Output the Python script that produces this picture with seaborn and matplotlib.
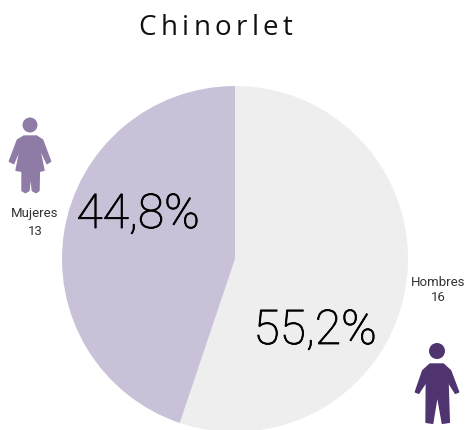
# -*- coding: utf-8 -*-
import matplotlib
matplotlib.use('Agg')
import matplotlib.pyplot as plt
import matplotlib.patheffects as pe
from matplotlib.patches import Circle, Polygon
import seaborn as sns

# datos
titulo = 'Chinorlet'
categorias = ['Hombres', 'Mujeres']
valores = [16, 13]
porcentajes = ['55,2%', '44,8%']
colores = ['#eeeeee', '#c9c1d8']
color_hombre = '#4f3470'
color_mujer = '#8f7ca6'

sns.set_theme(style='white')
plt.rcParams['font.family'] = ['Roboto', 'DejaVu Sans']

fig = plt.figure(figsize=(4.66, 4.30), dpi=100)
ax = fig.add_axes([0, 0, 1, 1])

# el pastel, en coordenadas de pixel (y hacia arriba)
ax.pie(valores, colors=sns.color_palette(colores), startangle=90, counterclock=False,
       center=(235, 430 - 259), radius=173, frame=True, wedgeprops={'linewidth': 0})
ax.set_xlim(0, 466)
ax.set_ylim(0, 430)
ax.set_aspect('equal')
ax.axis('off')


def py(y):
    return 430 - y


# porcentajes: light con un trazo fino para dar algo de cuerpo
grosor = [pe.withStroke(linewidth=0.6, foreground='black')]
ax.text(315, py(331), porcentajes[0], fontsize=34.5, fontweight='light', color='black', ha='center', va='center', path_effects=grosor)
ax.text(138, py(215), porcentajes[1], fontsize=34.5, fontweight='light', color='black', ha='center', va='center', path_effects=grosor)

# etiquetas de cada grupo
ax.text(35, py(222.5), f'{categorias[1]}\n{valores[1]}', fontsize=9.5, color='#333333', ha='center', va='center', linespacing=1.5)
ax.text(438, py(290), f'{categorias[0]}\n{valores[0]}', fontsize=9.5, color='#333333', ha='center', va='center', linespacing=1.25)

# titulo con letras separadas
renderer = fig.canvas.get_renderer()
espacio = 4.4
x0 = 138.5
for i, letra in enumerate(titulo):
    if i > 0:
        t = ax.text(0, 0, titulo[:i], fontsize=20, family='Open Sans')
        ancho = t.get_window_extent(renderer).width
        t.remove()
    else:
        ancho = 0
    ax.text(x0 + ancho + espacio * i, py(35), letra, fontsize=20, family='Open Sans', color='#111111', ha='left', va='baseline')

# icono mujer
mujer = [(72, 108), (110, 108), (128, 120), (152, 184), (141, 191), (118, 142), (132, 211), (118, 214),
         (117, 272), (108, 278), (97, 272), (92, 222), (87, 272), (76, 278), (66, 272), (66, 214),
         (48, 211), (62, 142), (41, 191), (28, 184), (52, 120)]
ax.add_patch(Polygon([(x / 3, py(y / 3 + 100)) for x, y in mujer], closed=True, fc=color_mujer, ec=color_mujer, lw=1, joinstyle='round'))
ax.add_patch(Circle((30, py(125)), 7.5, color=color_mujer, lw=0))

# icono hombre
hombre = [(150, 312), (190, 312), (212, 332), (236, 396), (226, 400), (204, 365), (208, 487), (187, 490),
          (172, 405), (158, 490), (138, 487), (139, 365), (116, 400), (106, 396), (128, 332)]
ax.add_patch(Polygon([(x / 3 + 380, py(y / 3 + 260)) for x, y in hombre], closed=True, fc=color_hombre, ec=color_hombre, lw=1, joinstyle='round'))
ax.add_patch(Circle((437, py(351)), 8, color=color_hombre, lw=0))

plt.savefig('out.png', dpi=100)
